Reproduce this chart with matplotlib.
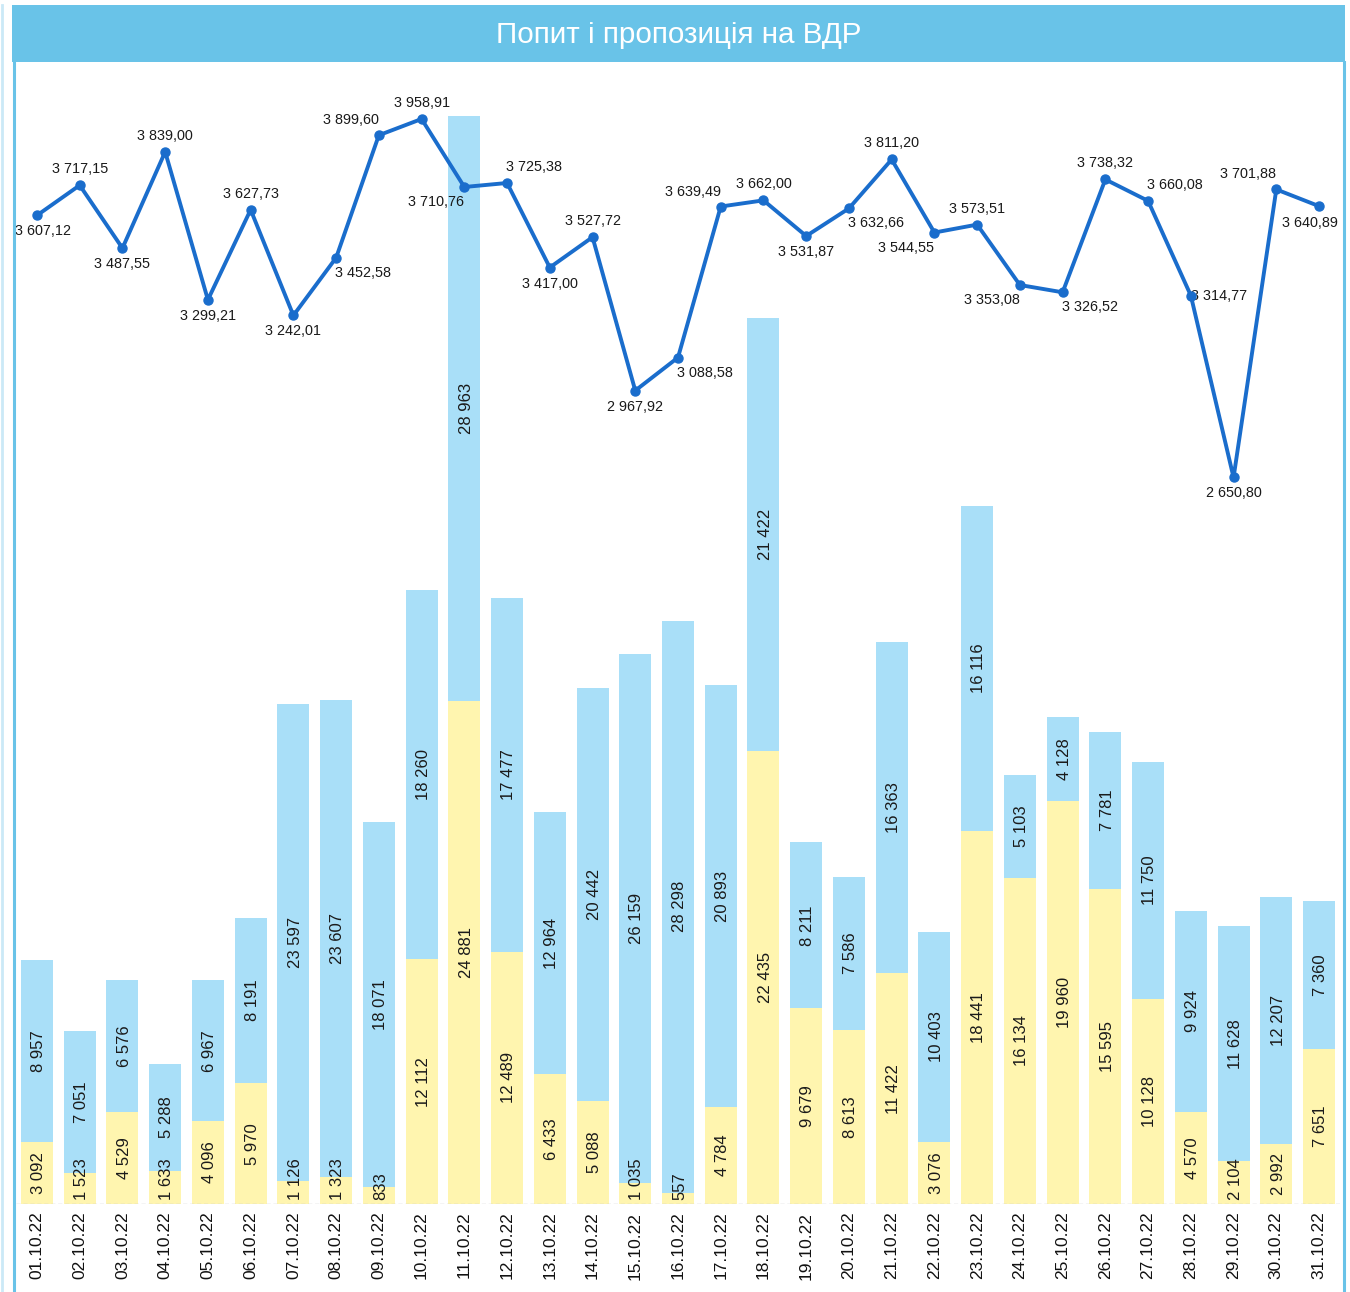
import matplotlib
matplotlib.use("Agg")
import matplotlib.pyplot as plt
from matplotlib.lines import Line2D
from matplotlib.patches import Rectangle

# Data
dates = ['01.10.22', '02.10.22', '03.10.22', '04.10.22', '05.10.22', '06.10.22', '07.10.22',
         '08.10.22', '09.10.22', '10.10.22', '11.10.22', '12.10.22', '13.10.22', '14.10.22',
         '15.10.22', '16.10.22', '17.10.22', '18.10.22', '19.10.22', '20.10.22', '21.10.22',
         '22.10.22', '23.10.22', '24.10.22', '25.10.22', '26.10.22', '27.10.22', '28.10.22',
         '29.10.22', '30.10.22', '31.10.22']
supply = [3092, 1523, 4529, 1633, 4096, 5970, 1126, 1323, 833, 12112, 24881, 12489, 6433, 5088,
          1035, 557, 4784, 22435, 9679, 8613, 11422, 3076, 18441, 16134, 19960, 15595, 10128,
          4570, 2104, 2992, 7651]
demand = [8957, 7051, 6576, 5288, 6967, 8191, 23597, 23607, 18071, 18260, 28963, 17477, 12964,
          20442, 26159, 28298, 20893, 21422, 8211, 7586, 16363, 10403, 16116, 5103, 4128, 7781,
          11750, 9924, 11628, 12207, 7360]
price = [3607.12, 3717.15, 3487.55, 3839.00, 3299.21, 3627.73, 3242.01, 3452.58, 3899.60,
         3958.91, 3710.76, 3725.38, 3417.00, 3527.72, 2967.92, 3088.58, 3639.49, 3662.00,
         3531.87, 3632.66, 3811.20, 3544.55, 3573.51, 3353.08, 3326.52, 3738.32, 3660.08,
         3314.77, 2650.80, 3701.88, 3640.89]

# where each price label sits relative to its point
label_pos = ['b_r', 't', 'b', 't', 'b', 't', 'b', 'br', 'tl', 't', 'bl', 'tr', 'b', 't', 'b',
             'br', 'tl', 't', 'b', 'br', 't', 'bl', 't', 'bl', 'br', 't', 'tr', 'r', 'b', 'tl',
             'b_l']
offsets = {'t': (0, 16), 'b': (0, -16), 'tl': (-28, 15), 'tr': (27, 16), 'bl': (-28, -15),
           'br': (27, -15), 'r': (28, 0), 'b_r': (6, -16), 'b_l': (-9, -17)}

HEADER = '#69C3E8'
BLUE = '#A9DFF8'
YELLOW = '#FFF5AF'
LINE = '#1A6DCC'
FONT = 'Liberation Sans'


def fmt_int(v):
    return f"{v:,}".replace(',', '\u00a0')


def fmt_price(v):
    return f"{v:,.2f}".replace(',', ' ').replace('.', ',')


W, H = 1350, 1292
fig = plt.figure(figsize=(W / 100, H / 100), dpi=100)
fig.patch.set_facecolor('white')

# header bar and frame
fig.add_artist(Rectangle((12 / W, 1 - 62 / H), 1333 / W, 57 / H, transform=fig.transFigure,
                         facecolor=HEADER, edgecolor='none'))
fig.text(679 / W, 1 - 35 / H, 'Попит і пропозиція на ВДР', color='white', fontsize=21.3,
         family=FONT, ha='center', va='center')
fig.add_artist(Line2D([13.5 / W, 13.5 / W], [0, 1 - 62 / H], transform=fig.transFigure,
                      color=HEADER, lw=2.2))
fig.add_artist(Line2D([1343.5 / W, 1343.5 / W], [0, 1 - 62 / H], transform=fig.transFigure,
                      color=HEADER, lw=2.2))
fig.add_artist(Line2D([1.5 / W, 1.5 / W], [0, 1 - 5 / H], transform=fig.transFigure,
                      color='#CBE9F7', lw=2))

left, right = 15.6, 1340.4
top, base = 62, 1204
ax = fig.add_axes([left / W, (H - base) / H, (right - left) / W, (base - top) / H])
ax.set_xlim(-0.5, 30.5)
ax.set_ylim(0, (base - top) / 0.02021)

x = list(range(len(dates)))
ax.bar(x, supply, width=0.75, color=YELLOW, zorder=2)
ax.bar(x, demand, width=0.75, bottom=supply, color=BLUE, zorder=2)
ax.axhline(0, color='#C8C8C8', lw=1, ls=(0, (3, 2)), zorder=3)

for s in ax.spines.values():
    s.set_visible(False)
ax.set_yticks([])
ax.set_xticks(x)
ax.set_xticklabels(dates, rotation=90, fontsize=12.5, family=FONT, color='#111111')
ax.tick_params(axis='x', length=0, pad=5.5)

yellow_texts = []
for i in x:
    t = ax.text(i + 0.04, supply[i] / 2, fmt_int(supply[i]), rotation=90, ha='center',
                va='center', fontsize=12, family=FONT, color='#1a1a1a', zorder=4)
    yellow_texts.append(t)
    ax.text(i + 0.04, supply[i] + demand[i] / 2, fmt_int(demand[i]), rotation=90, ha='center',
            va='center', fontsize=12, family=FONT, color='#1a1a1a', zorder=4)

ax2 = ax.twinx()
ax2.set_ylim(0, (base - top) / 0.27407)
ax2.set_yticks([])
for s in ax2.spines.values():
    s.set_visible(False)
ax2.plot(x, price, color=LINE, lw=2.8, marker='o', markersize=6.5, zorder=5)
for i in x:
    dx, dy = offsets[label_pos[i]]
    ax2.annotate(fmt_price(price[i]), (i, price[i]), xytext=(dx, dy),
                 textcoords='offset pixels', ha='center', va='center', fontsize=10.4,
                 family=FONT, color='#1a1a1a')

# keep small supply labels inside the plot, just above the baseline
fig.canvas.draw()
base_px = ax.transData.transform((0, 0))[1]
for i, t in enumerate(yellow_texts):
    bb = t.get_window_extent()
    if bb.y0 < base_px + 4:
        cy = base_px + 4 + bb.height / 2
        t.set_y(ax.transData.inverted().transform((0, cy))[1])

fig.savefig('out.png', dpi=100, facecolor='white')
